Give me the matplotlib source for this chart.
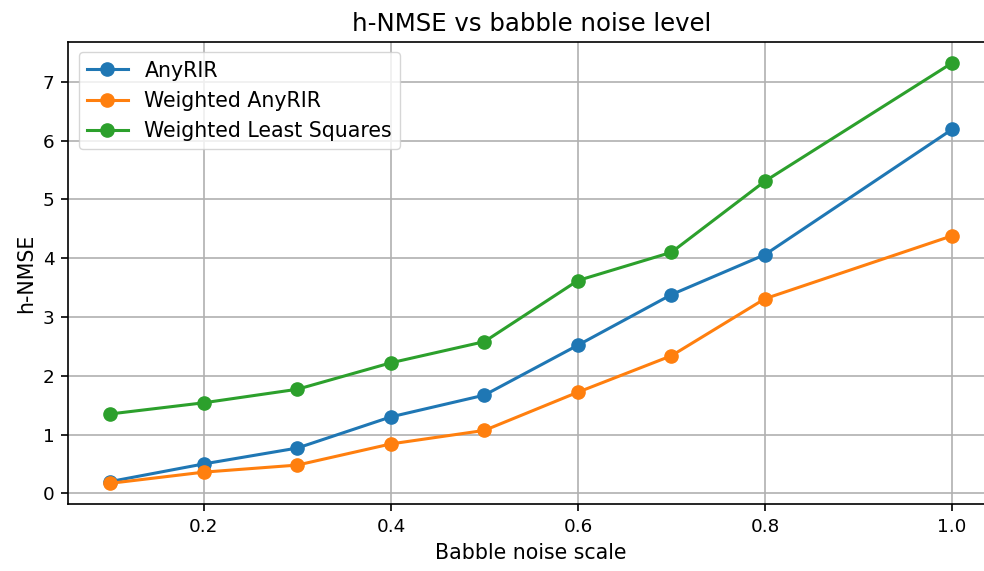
import matplotlib
matplotlib.use("Agg")
import matplotlib.pyplot as plt

noise_scale = [0.1, 0.2, 0.3, 0.4, 0.5, 0.6, 0.7, 0.8, 1.0]
anyrir = [0.20, 0.50, 0.77, 1.30, 1.67, 2.52, 3.38, 4.06, 6.19]
weighted_anyrir = [0.17, 0.36, 0.48, 0.84, 1.07, 1.72, 2.34, 3.31, 4.38]
weighted_ls = [1.35, 1.54, 1.77, 2.22, 2.58, 3.62, 4.10, 5.31, 7.32]

fig = plt.figure(figsize=(9.84, 5.71), dpi=100)
# the plotting area runs slightly past the right edge of the canvas
ax = fig.add_axes([0.0694, 0.1168, 1.0102 - 0.0694, 0.9264 - 0.1168])

style = dict(marker="o", markersize=9.5, linewidth=2.2)
ax.plot(noise_scale, anyrir, label="AnyRIR", **style)
ax.plot(noise_scale, weighted_anyrir, label="Weighted AnyRIR", **style)
ax.plot(noise_scale, weighted_ls, label="Weighted Least Squares", **style)

ax.set_title("h-NMSE vs babble noise level", fontsize=17.6, pad=8)
ax.set_xlabel("Babble noise scale", fontsize=14.8, labelpad=5)
ax.set_ylabel("h-NMSE", fontsize=14.8, labelpad=5)
ax.tick_params(labelsize=13.2, length=5, width=1.2, pad=5)
for spine in ax.spines.values():
    spine.set_linewidth(1.2)
ax.grid(True, linewidth=1.2)
ax.legend(fontsize=14.8, loc="upper left")
fig.savefig("out.png")
